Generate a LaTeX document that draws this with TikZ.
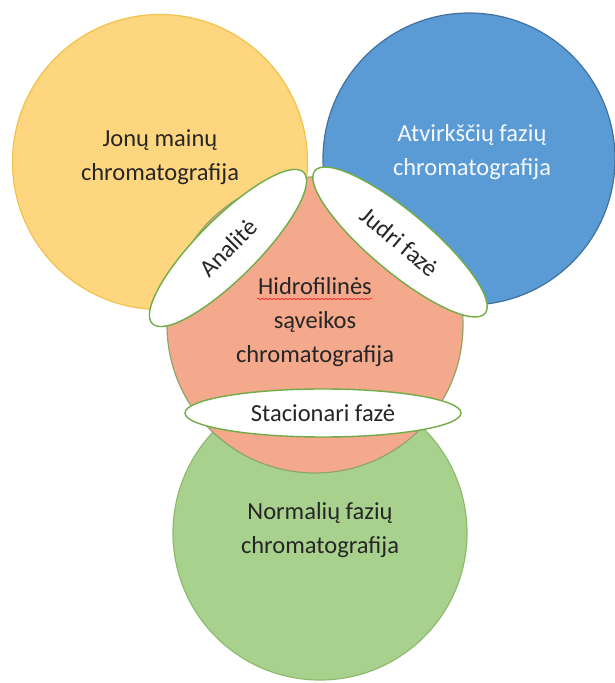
\documentclass[tikz,border=0pt]{standalone}
\usepackage{fontspec}
\setmainfont{Carlito}
\usetikzlibrary{positioning,shapes.geometric,decorations.pathmorphing}
\definecolor{gold}{HTML}{FFD680}
\definecolor{goldline}{HTML}{F2C24A}
\definecolor{sky}{HTML}{5B9BD5}
\definecolor{skyline}{HTML}{41719C}
\definecolor{salmon}{HTML}{F4A88C}
\definecolor{salmonline}{HTML}{8FA56A}
\definecolor{leaf}{HTML}{A9D18E}
\definecolor{leafline}{HTML}{8DBB6E}
\definecolor{rim}{HTML}{70AD47}
\definecolor{ink}{HTML}{262626}

\begin{document}
\begin{tikzpicture}[x=1pt,y=1pt,
  txt/.style={font=\fontsize{24.5}{34}\selectfont,align=center,text=ink,inner sep=0pt},
  disc/.style={circle,inner sep=0pt,line width=1.2pt},
  lens/.style={txt,ellipse,draw=rim,fill=white,line width=1.4pt}]
\useasboundingbox (0,0) rectangle (614,683);
% circles
\node[disc,draw=goldline,fill=gold,minimum size=295pt] (ion) at (160,521) {};
\node[disc,draw=skyline,fill=sky,minimum size=292pt] (rev) at (469,524) {};
\node[disc,draw=leafline,fill=leaf,minimum size=294pt] (norm) at (320,150) {};
\node[disc,draw=salmonline,fill=salmon,minimum size=296pt] (hilic) at (315,358) {};
% circle texts
\node[txt] (iontxt) at ([yshift=5]ion.center) {Jonų mainų\\chromatografija};
\node[txt,text=white!93!sky] (revtxt) at ([shift={(3,7)}]rev.center) {Atvirkščių fazių\\chromatografija};
\node[txt] (normtxt) at ([yshift=3]norm.center) {Normalių fazių\\chromatografija};
\node[txt] (hilictxt) at ([yshift=3]hilic.center) {Hidrofilinės\\sąveikos\\chromatografija};
\draw[red,decorate,decoration={snake,amplitude=0.9pt,segment length=4pt}]
  ([shift={(-58,23)}]hilictxt.center) -- ++(116,0);
% lenses between circles
\node[lens,rotate=45,minimum width=214pt,minimum height=60pt] (analyte) at (228,435) {Analitė};
\node[lens,rotate=-40,minimum width=222pt,minimum height=60pt] (mobile) at (400,441) {Judri fazė};
\node[lens,minimum width=276pt,minimum height=48pt] (stat) at (323,270) {Stacionari fazė};
\end{tikzpicture}
\end{document}
